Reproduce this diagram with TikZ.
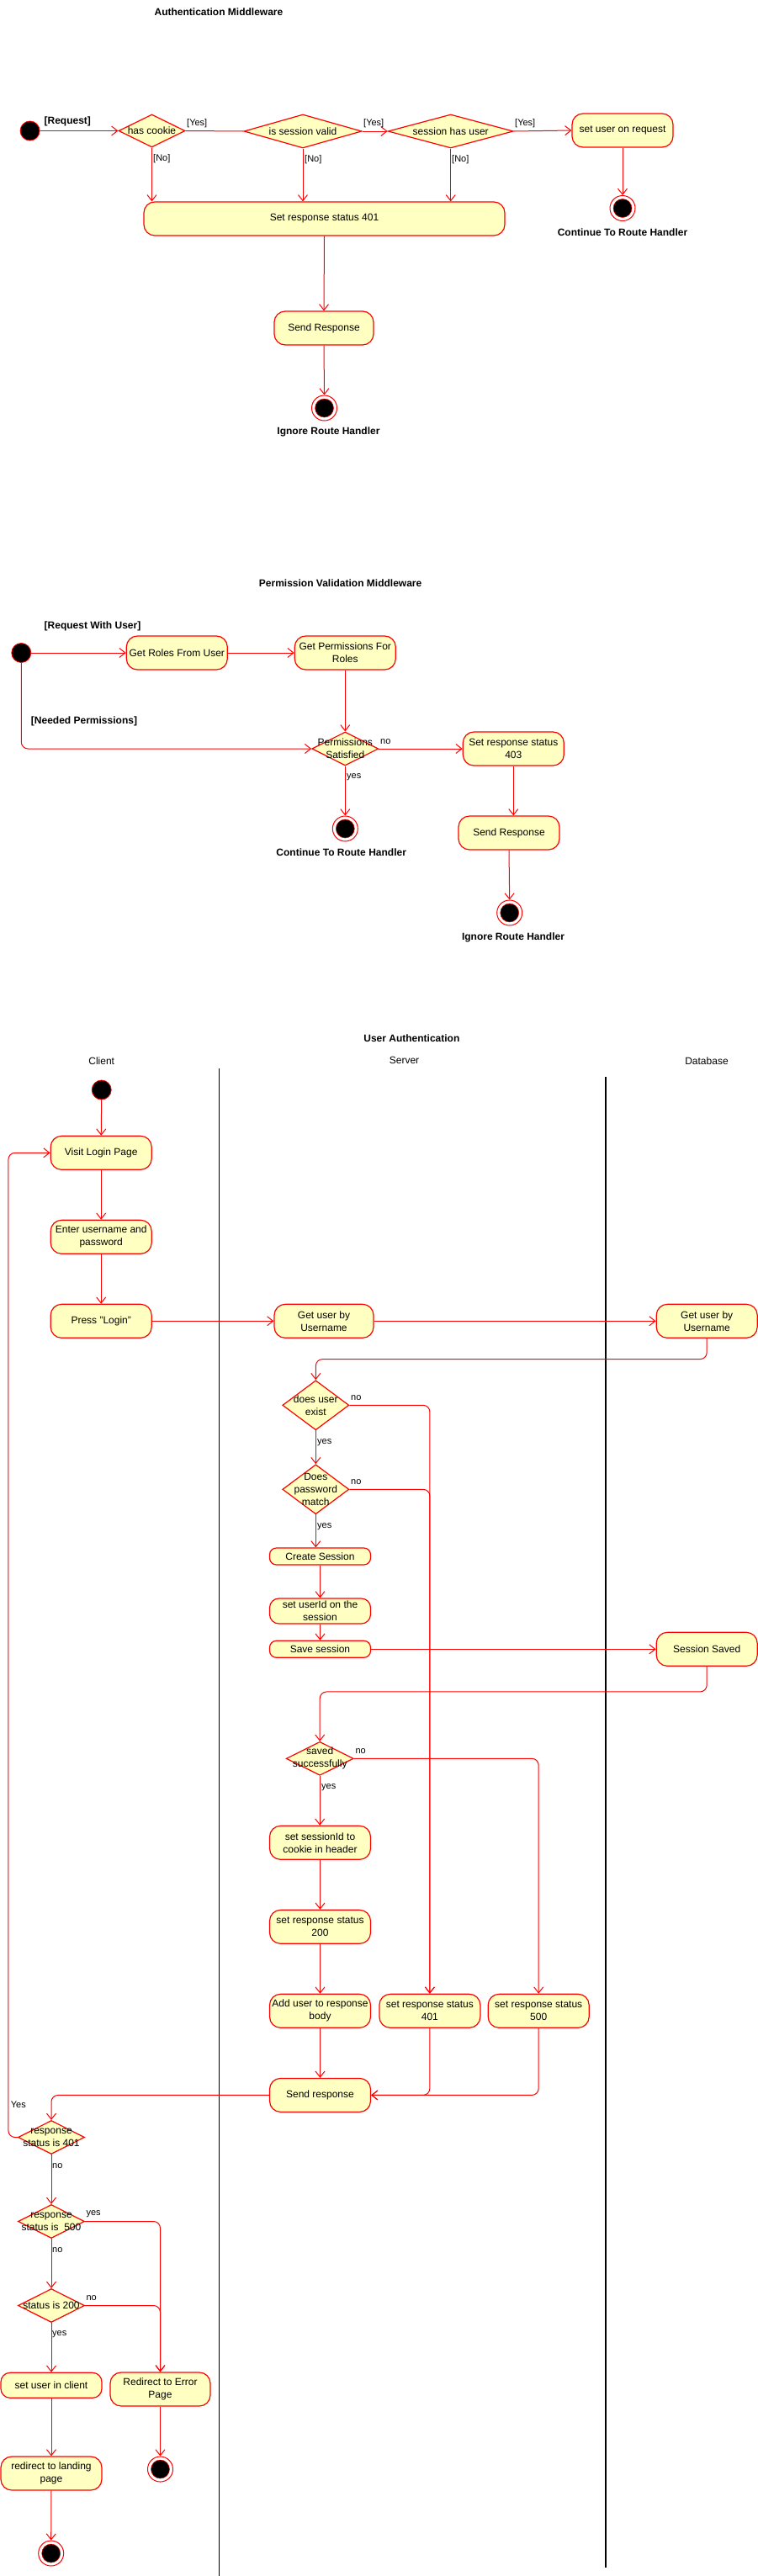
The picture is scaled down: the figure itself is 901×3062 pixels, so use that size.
\documentclass[tikz,border=0pt]{standalone}
\usepackage{fontspec}
\setmainfont{Liberation Sans}
\usetikzlibrary{shapes.geometric,arrows.meta}
\definecolor{umlred}{RGB}{255,0,0}
\definecolor{umlfill}{RGB}{255,255,194}
\newcommand\ftxt{\fontsize{12}{15}\selectfont}
\newcommand\fsml{\fontsize{11}{13}\selectfont}
\newcommand\fbld{\fontsize{12}{15}\selectfont\bfseries}
\tikzset{
  act/.style={rectangle, rounded corners=13pt, draw=umlred, line width=1.2pt, fill=umlfill,
    align=center, font=\ftxt, inner sep=0pt, minimum width=120pt, minimum height=40pt},
  actsmall/.style={act, rounded corners=8pt, minimum height=20pt},
  actmid/.style={act, rounded corners=11pt, minimum height=30pt},
  dec/.style={diamond, draw=umlred, fill=umlfill, line width=1.2pt, inner sep=0pt},
  dectext/.style={align=center, font=\ftxt, inner sep=0pt},
  initnode/.style={circle, fill=black, draw=umlred, line width=0.8pt, minimum size=23pt, inner sep=0pt},
  finnode/.style={circle, draw=umlred, line width=1pt, fill=white, minimum size=30pt, inner sep=0pt,
    path picture={\filldraw[black, draw=umlred, line width=0.5pt] (path picture bounding box.center) circle (11pt);}},
  conn/.style={draw=umlred, line width=1pt, rounded corners=8pt, -{Straight Barb[length=7pt,width=11pt]}},
  lin/.style={draw=umlred, line width=1pt},
  guard/.style={font=\fsml, inner sep=0pt, anchor=west},
  boldlab/.style={font=\fbld, inner sep=0pt},
  lanehead/.style={font=\ftxt, inner sep=0pt},
  lane/.style={draw=black, line width=1.2pt}
}
\begin{document}
\begin{tikzpicture}[x=1pt,y=-1pt]
\fill[white] (0,0) rectangle (901,3062);
\useasboundingbox (0,0) rectangle (901,3062);

% ================= Authentication Middleware =================
\node[boldlab] (t1) at (260,14) {Authentication Middleware};
\node[initnode] (i1) at (35.6,155.5) {};
\node[dec, minimum width=79pt, minimum height=39pt] (hc) at (180.5,155.5) {};
\node[dectext] (hct) at (hc) {has cookie};
\node[dec, minimum width=140pt, minimum height=40pt] (sv) at (360,156) {};
\node[dectext] (svt) at (sv) {is session valid};
\node[dec, minimum width=149pt, minimum height=40pt] (shu) at (535.7,156) {};
\node[dectext] (shut) at (shu) {session has user};
\node[act] (sur) at (740,155) {set user on request};
\node[finnode] (f1) at (740,247.5) {};
\node[boldlab] (f1l) at (740,276) {Continue To Route Handler};
\node[act, minimum width=429pt] (s401a) at (385.5,260) {Set response status 401};
\node[act, minimum width=118pt] (sr1) at (385,390) {Send Response};
\node[finnode] (f2) at (385.5,485) {};
\node[boldlab] (f2l) at (390.5,513) {Ignore Route Handler};

\draw[conn] (i1) -- (hc.west);
\node[boldlab] (lreq) at (80.3,144) {[Request]};
\draw[lin] (hc.east) -- (sv.west);
\node[guard] (ly1) at (222,147) {[Yes]};
\draw[conn] (sv.east) -- (shu.west);
\node[guard] (ly2) at (432,147) {[Yes]};
\draw[conn] (shu.east) -- (sur.west);
\node[guard] (ly3) at (612,147) {[Yes]};
\draw[conn] (sur.south) -- (f1.north);
\draw[conn] (hc.south) -- (hc.south |- s401a.north);
\node[guard] (ln1) at (182,189) {[No]};
\draw[conn] (sv.south) -- (sv.south |- s401a.north);
\node[guard] (ln2) at (362,190) {[No]};
\draw[conn] (shu.south) -- (shu.south |- s401a.north);
\node[guard] (ln3) at (537,190) {[No]};
\draw[conn] (s401a.south) -- (sr1.north);
\draw[conn] (sr1.south) -- (f2.north);

% ================= Permission Validation Middleware =================
\node[boldlab] (t2) at (404.6,693.7) {Permission Validation Middleware};
\node[boldlab] (lrwu) at (110,744) {[Request With User]};
\node[initnode] (i2) at (25.3,776) {};
\node[act] (grfu) at (210.3,776) {Get Roles From User};
\node[act] (gpfr) at (410.3,776) {Get Permissions For\\Roles};
\node[dec, minimum width=79pt, minimum height=40pt] (ps) at (410.3,890) {};
\node[dectext] (pst) at (ps) {Permissions\\Satisfied};
\node[act] (s403) at (610.3,890) {Set response status\\403};
\node[finnode] (f3) at (410.3,985) {};
\node[boldlab] (f3l) at (405.7,1013) {Continue To Route Handler};
\node[act] (sr2) at (605,990) {Send Response};
\node[finnode] (f4) at (605.7,1085) {};
\node[boldlab] (f4l) at (610,1114) {Ignore Route Handler};
\node[boldlab] (lnp) at (100,857.7) {[Needed Permissions]};

\draw[conn] (i2) -- (grfu.west);
\draw[conn] (grfu) -- (gpfr);
\draw[conn] (gpfr.south) -- (ps.north);
\draw[conn] (i2.south) |- (ps.west);
\draw[conn] (ps.east) -- (s403.west);
\node[guard] (lpn) at (452,881.7) {no};
\draw[conn] (ps.south) -- (f3.north);
\node[guard] (lpy) at (412,924) {yes};
\draw[conn] (s403.south) -- (s403.south |- sr2.north);
\draw[conn] (sr2.south) -- (f4.north);

% ================= User Authentication =================
\node[boldlab] (t3) at (489.4,1233.7) {User Authentication};
\node[lanehead] (hcl) at (120.7,1260.7) {Client};
\node[lanehead] (hsv) at (480.5,1260.7) {Server};
\node[lanehead] (hdb) at (840,1260.7) {Database};
\draw[lane] (260.3,1270.3) -- (260.3,3062);
\draw[lane] (720,1280.3) -- (720,3052);

\node[initnode] (i3) at (120.7,1295.5) {};
\node[act] (vlp) at (120.2,1370.3) {Visit Login Page};
\node[act] (eup) at (120.2,1470.3) {Enter username and\\password};
\node[act] (pl) at (120.2,1570.3) {Press "Login"};
\node[act, minimum width=118pt] (gus) at (385,1570.3) {Get user by\\Username};
\node[act] (gud) at (840.2,1570.3) {Get user by\\Username};
\node[dec, minimum width=79pt, minimum height=59pt] (due) at (375.3,1670.3) {};
\node[dectext] (duet) at (due) {does user\\exist};
\node[dec, minimum width=79pt, minimum height=59pt] (dpm) at (375.3,1770.3) {};
\node[dectext] (dpmt) at (dpm) {Does\\password\\match};
\node[actsmall] (cs) at (380.5,1850) {Create Session};
\node[actmid] (su) at (380.5,1915) {set userId on the\\session};
\node[actsmall] (ss) at (380.5,1960.3) {Save session};
\node[act] (ssd) at (840.2,1960.3) {Session Saved};
\node[dec, minimum width=80pt, minimum height=40pt] (sas) at (380.2,2090.3) {};
\node[dectext] (sast) at (sas) {saved\\successfully};
\node[act] (ssc) at (380.5,2190.3) {set sessionId to\\cookie in header};
\node[act] (s200) at (380.5,2290.3) {set response status\\200};
\node[act] (aur) at (380.5,2390.3) {Add user to response\\body};
\node[act] (s401b) at (510.9,2390.3) {set response status\\401};
\node[act] (s500) at (640.2,2390.3) {set response status\\500};
\node[act] (sr3) at (380.5,2490.4) {Send response};
\node[dec, minimum width=79pt, minimum height=40pt] (r401) at (61,2540.5) {};
\node[dectext] (r401t) at (r401) {response\\status is 401};
\node[dec, minimum width=79pt, minimum height=40pt] (r500) at (61,2640.5) {};
\node[dectext] (r500t) at (r500) {response\\status is\ \ 500};
\node[dec, minimum width=79pt, minimum height=40pt] (r200) at (61,2740.5) {};
\node[dectext] (r200t) at (r200) {status is 200};
\node[actmid] (suc) at (61,2835.3) {set user in client};
\node[act, minimum width=119pt] (rep) at (190.5,2840) {Redirect to Error\\Page};
\node[finnode] (f5) at (190.5,2935) {};
\node[act] (rlp) at (61,2940) {redirect to landing\\page};
\node[finnode] (f6) at (60.7,3035) {};

\draw[conn] (i3.south) -- (vlp.north);
\draw[conn] (vlp) -- (eup);
\draw[conn] (eup) -- (pl);
\draw[conn] (pl) -- (gus);
\draw[conn] (gus) -- (gud);
\draw[conn] (gud.south) -- ++(0,24.7) -| (due.north);
\draw[conn] (due.east) -| (s401b.north);
\node[guard] (ldn) at (417,1661.7) {no};
\draw[conn] (due.south) -- (dpm.north);
\node[guard] (ldy) at (377,1714.7) {yes};
\draw[conn] (dpm.east) -| (s401b.north);
\node[guard] (lpmn) at (417,1761.7) {no};
\draw[conn] (dpm.south) -- (dpm.south |- cs.north);
\node[guard] (lpmy) at (377,1814.7) {yes};
\draw[conn] (cs) -- (su);
\draw[conn] (su) -- (ss);
\draw[conn] (ss.east) -- (ssd.west);
\draw[conn] (ssd.south) -- ++(0,30) -| (sas.north);
\draw[conn] (sas.east) -| (s500.north);
\node[guard] (lsn) at (422.4,2081.7) {no};
\draw[conn] (sas.south) -- (sas.south |- ssc.north);
\node[guard] (lsy) at (382,2124.7) {yes};
\draw[conn] (ssc) -- (s200);
\draw[conn] (s200) -- (aur);
\draw[conn] (aur) -- (sr3);
\draw[conn] (s401b.south) |- (sr3.east);
\draw[conn] (s500.south) |- (sr3.east);
\draw[conn] (sr3.west) -| (r401.north);
\draw[conn] (r401.west) -- ++(-11,0) |- (vlp.west);
\node[guard] (lry) at (12.7,2501.3) {Yes};
\draw[conn] (r401.south) -- (r500.north);
\node[guard] (l4n) at (62,2574.5) {no};
\draw[conn] (r500.east) -| (rep.north);
\node[guard] (l5y) at (102.3,2632) {yes};
\draw[conn] (r500.south) -- (r200.north);
\node[guard] (l5n) at (62,2674.5) {no};
\draw[conn] (r200.east) -| (rep.north);
\node[guard] (l2n) at (102.3,2732) {no};
\draw[conn] (r200.south) -- (suc.north);
\node[guard] (l2y) at (62,2774.5) {yes};
\draw[conn] (rep.south) -- (f5.north);
\draw[conn] (suc.south) -- (rlp.north);
\draw[conn] (rlp.south) -- (f6.north);
\end{tikzpicture}
\end{document}
